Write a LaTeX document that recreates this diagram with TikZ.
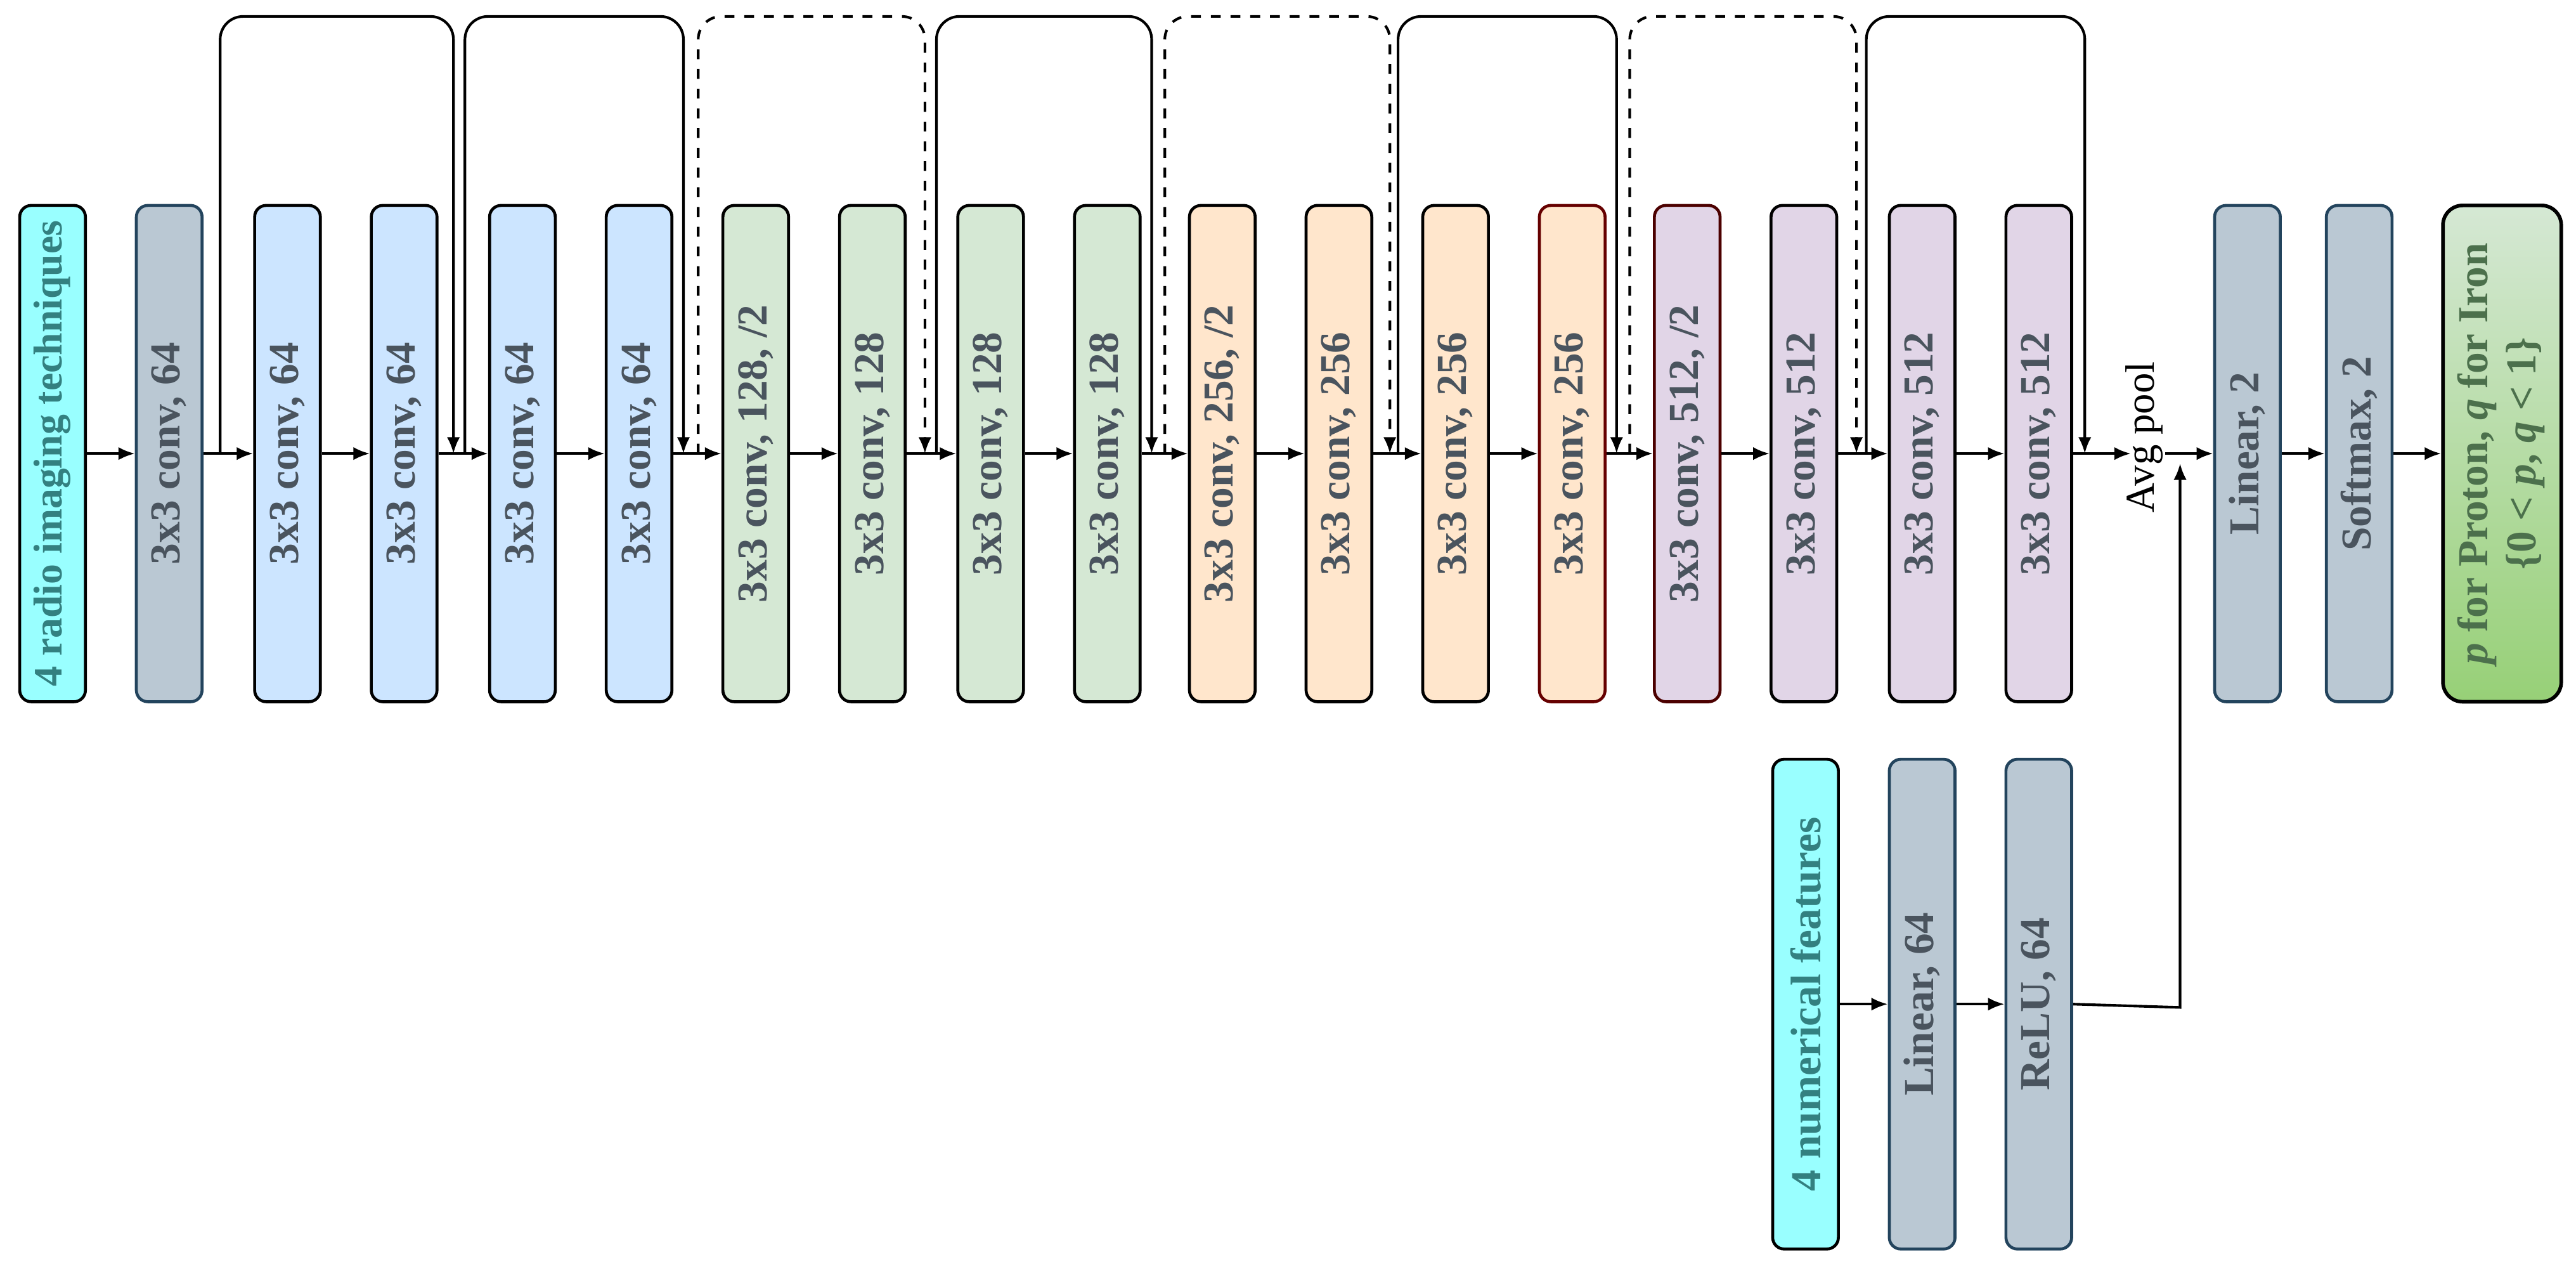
\documentclass[tikz,border=0pt]{standalone}
\usepackage{fontspec}
\setmainfont{Liberation Serif}
\usetikzlibrary{arrows.meta,shadings}
\definecolor{cyanf}{HTML}{99FFFF}
\definecolor{grayf}{HTML}{BAC8D3}
\definecolor{grayd}{HTML}{23445D}
\definecolor{bluef}{HTML}{CCE5FF}
\definecolor{greenf}{HTML}{D5E8D4}
\definecolor{greend}{HTML}{97D077}
\definecolor{orangef}{HTML}{FFE6CC}
\definecolor{purplef}{HTML}{E1D5E7}
\definecolor{txt}{HTML}{4A545E}
\begin{document}
\begin{tikzpicture}[x=0.5pt,y=0.5pt,
  box/.style={draw=black,line width=0.9pt,rounded corners=3.5pt,rotate=90,minimum width=151pt,minimum height=20pt,inner sep=0pt,
    font=\fontsize{13}{14.5}\selectfont\bfseries,text=txt},
  gbox/.style={box,fill=grayf,draw=grayd},
  arr/.style={-{Latex[length=5pt,width=4pt]},line width=0.8pt},
  skip/.style={arr,rounded corners=7pt}]
\useasboundingbox (0,0) rectangle (1568,773);
\node[box,fill=cyanf,text=teal!60!gray,font=\fontsize{12.3}{14}\selectfont\bfseries] (in) at (32,497) {4 radio imaging techniques};
\node[gbox] (c1) at (103,497) {3x3 conv, 64};
\node[box,fill=bluef] (c2) at (175,497) {3x3 conv, 64};
\node[box,fill=bluef] (c3) at (246,497) {3x3 conv, 64};
\node[box,fill=bluef] (c4) at (318,497) {3x3 conv, 64};
\node[box,fill=bluef] (c5) at (389,497) {3x3 conv, 64};
\node[box,fill=greenf] (c6) at (460,497) {3x3 conv, 128, /2};
\node[box,fill=greenf] (c7) at (531,497) {3x3 conv, 128};
\node[box,fill=greenf] (c8) at (603,497) {3x3 conv, 128};
\node[box,fill=greenf] (c9) at (674,497) {3x3 conv, 128};
\node[box,fill=orangef] (c10) at (744,497) {3x3 conv, 256, /2};
\node[box,fill=orangef] (c11) at (815,497) {3x3 conv, 256};
\node[box,fill=orangef] (c12) at (886,497) {3x3 conv, 256};
\node[box,fill=orangef,draw=red!40!black] (c13) at (957,497) {3x3 conv, 256};
\node[box,fill=purplef,draw=red!30!black] (c14) at (1027,497) {3x3 conv, 512, /2};
\node[box,fill=purplef] (c15) at (1098,497) {3x3 conv, 512};
\node[box,fill=purplef] (c16) at (1170,497) {3x3 conv, 512};
\node[box,fill=purplef] (c17) at (1241,497) {3x3 conv, 512};
\node[rotate=90,inner sep=1pt,font=\fontsize{12.5}{14}\selectfont] (ap) at (1305,507) {Avg pool};
\node[gbox] (l2) at (1368,497) {Linear, 2};
\node[gbox] (sm) at (1436,497) {Softmax, 2};
\node[box,minimum height=36pt,rounded corners=6pt,line width=1.1pt,shading=axis,shading angle=0,top color=greenf,bottom color=greend,text=green!20!black!70] (out) at (1523,497)
  {\begin{tabular}{c}\textit{p} for Proton, \textit{q} for Iron\\\{0 < \textit{p}, \textit{q} < 1\}\end{tabular}};
\node[box,fill=cyanf,minimum width=149pt,text=teal!60!gray] (nf) at (1099,162) {4 numerical features};
\node[gbox,minimum width=149pt] (l64) at (1170,162) {Linear, 64};
\node[gbox,minimum width=149pt] (r64) at (1241,162) {ReLU, 64};
% main chain
\foreach \a/\b in {in/c1,c1/c2,c2/c3,c3/c4,c4/c5,c5/c6,c6/c7,c7/c8,c8/c9,c9/c10,c10/c11,c11/c12,c12/c13,c13/c14,c14/c15,c15/c16,c16/c17}
  \draw[arr] (\a) -- (\b);
\coordinate (apin) at (1297,497);
\coordinate (apout) at (1318,497);
\coordinate (j) at (1327,497);
\draw[arr] (c17) -- (apin);
\draw[arr] (apout) -- (l2);
\draw[arr] (l2) -- (sm);
\draw[arr] (sm) -- (out);
\draw[arr] (nf) -- (l64);
\draw[arr] (l64) -- (r64);
\coordinate (rk) at (1327,160);
\draw[arr] (r64.south) -- (rk) -- ([yshift=-3]j);
% skips
\foreach \s/\e/\d in {134/276/solid,283/416/solid,425/563/dashed,570/701/solid,709/846/dashed,851/984/solid,992/1130/dashed,1136/1269/solid}{
  \coordinate (s) at (\s,497);
  \coordinate (e) at (\e,497);
  \draw[skip,\d] (s) -- (\s,763) -- (\e,763) -- (e);
}
\end{tikzpicture}
\end{document}
